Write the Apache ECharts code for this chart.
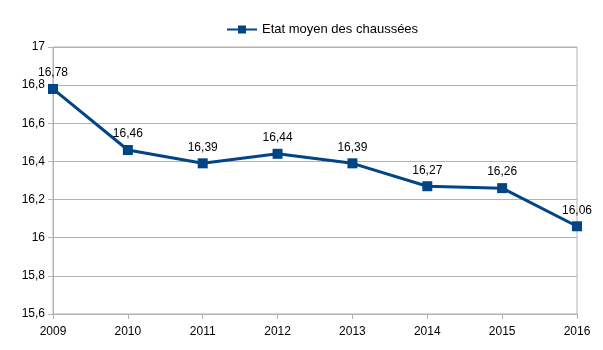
<!DOCTYPE html>
<html>
<head>
<meta charset="utf-8">
<script src="https://cdn.jsdelivr.net/npm/echarts@6/dist/echarts.min.js"></script>
<style>
  html, body { margin: 0; padding: 0; background: #fff; }
  #main { width: 603px; height: 350px; }
</style>
</head>
<body>
<div id="main"></div>
<script>
const YEARS = ['2009', '2010', '2011', '2012', '2013', '2014', '2015', '2016']
const ETAT_MOYEN = [16.78, 16.46, 16.39, 16.44, 16.39, 16.27, 16.26, 16.06]
const SERIES_NAME = 'Etat moyen des chaussées'

const LINE_COLOR = '#004586'
const AXIS_COLOR = '#b3b3b3'
const FONT = '"Liberation Sans", Arial, sans-serif'

// virgule décimale, comme dans l'original
const fr = v => String(+v.toFixed(2)).replace('.', ',')

const chart = echarts.init(document.getElementById('main'), null, { renderer: 'canvas' })

chart.setOption({
  backgroundColor: '#fff',
  animation: false,
  textStyle: { fontFamily: FONT },
  legend: {
    top: 18, left: 221,
    itemWidth: 30, itemHeight: 10, itemGap: 10,
    textStyle: { color: '#000', fontSize: 13, fontFamily: FONT },
    data: [SERIES_NAME],
  },
  grid: {
    left: 53, right: 26, top: 47, bottom: 36,
    show: true, borderColor: AXIS_COLOR, borderWidth: 1,
  },
  xAxis: {
    type: 'category',
    data: YEARS,
    boundaryGap: false,
    axisLine: { lineStyle: { color: AXIS_COLOR } },
    axisTick: { show: true, length: 5, alignWithLabel: true, lineStyle: { color: AXIS_COLOR } },
    axisLabel: { color: '#000', fontSize: 12, fontFamily: FONT, margin: 12 },
    splitLine: { show: false },
  },
  yAxis: {
    type: 'value',
    min: 15.6, max: 17, interval: 0.2,
    axisLine: { show: true, lineStyle: { color: AXIS_COLOR } },
    axisTick: { show: true, length: 5, lineStyle: { color: AXIS_COLOR } },
    axisLabel: { color: '#000', fontSize: 12, fontFamily: FONT, margin: 8, formatter: fr },
    splitLine: { lineStyle: { color: AXIS_COLOR } },
  },
  series: [
    {
      name: SERIES_NAME,
      type: 'line',
      data: ETAT_MOYEN,
      symbol: 'rect',
      symbolSize: 10,
      itemStyle: { color: LINE_COLOR },
      lineStyle: { color: LINE_COLOR, width: 3 },
      label: {
        show: true, position: 'top', distance: 5,
        color: '#000', fontSize: 12, fontFamily: FONT,
        formatter: p => fr(p.value),
      },
    }
  ],
})
</script>
</body>
</html>
